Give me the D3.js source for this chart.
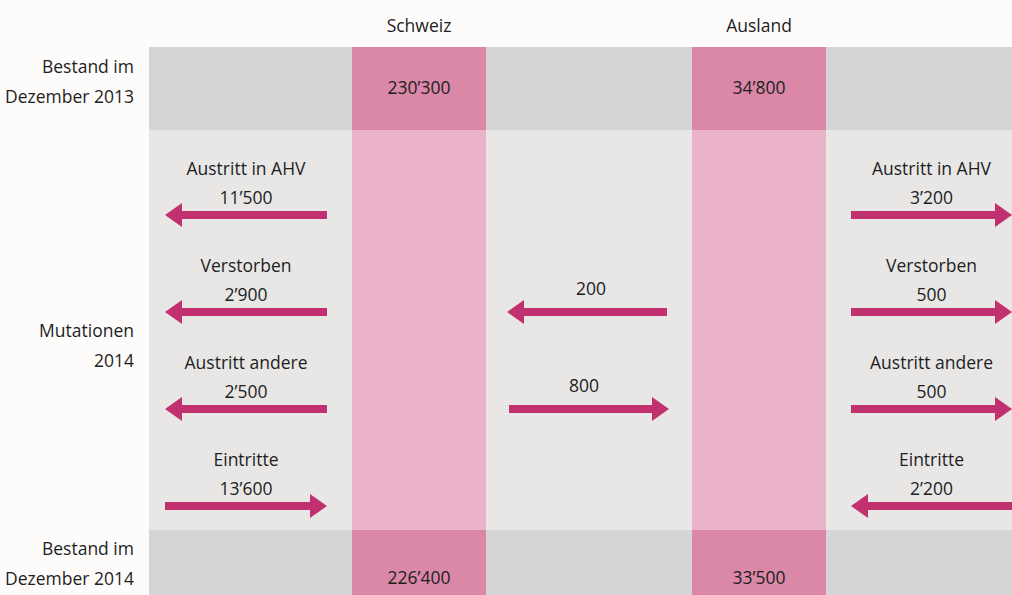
<!DOCTYPE html>
<html>
<head>
<meta charset="utf-8">
<script src="https://cdn.jsdelivr.net/npm/d3@7"></script>
<style>
  body { margin: 0; background: #fdfcfb; }
  svg { display: block; font-family: "Open Sans", "DejaVu Sans", sans-serif; }
  text { fill: #1e1e1e; font-size: 17.5px; }
</style>
</head>
<body>
<svg id="chart" width="1012" height="595"></svg>
<script>
// data
var columns = ["Schweiz", "Ausland"];
var stock2013 = [230300, 34800];
var stock2014 = [226400, 33500];
var flowNames = ["Austritt in AHV", "Verstorben", "Austritt andere", "Eintritte"];
var schweizFlows = [11500, 2900, 2500, 13600];
var auslandFlows = [3200, 500, 500, 2200];
// transfers between the two columns: row index, value, direction
var transferRows = [1, 2];
var transferValues = [200, 800];
var transferDirs = ["toSchweiz", "toAusland"];
var rowLabels = [["Bestand im", "Dezember 2013"], ["Mutationen", "2014"], ["Bestand im", "Dezember 2014"]];

var fmt = d3.formatLocale({ decimal: ".", thousands: "\u2019", grouping: [3], currency: ["", ""] }).format(",");

var svg = d3.select("#chart");
var W = 1012, H = 595;
var pink = "#c1306f";

// scales
var colX = d3.scaleOrdinal().domain(columns).range([352, 692]);
var colW = 134;
var rowY = d3.scalePoint().domain(d3.range(flowNames.length)).range([215, 506]);

var top1 = 47, top2 = 130, top3 = 530;

// background bands
svg.append("rect").attr("x", 149).attr("y", top1).attr("width", W - 149).attr("height", top2 - top1).attr("fill", "#d6d5d5");
svg.append("rect").attr("x", 149).attr("y", top2).attr("width", W - 149).attr("height", top3 - top2).attr("fill", "#e8e7e6");
svg.append("rect").attr("x", 149).attr("y", top3).attr("width", W - 149).attr("height", H - top3).attr("fill", "#d6d5d5");

// pink columns
columns.forEach(function(c) {
  svg.append("rect").attr("x", colX(c)).attr("y", top1).attr("width", colW).attr("height", top2 - top1).attr("fill", "#db88a8");
  svg.append("rect").attr("x", colX(c)).attr("y", top2).attr("width", colW).attr("height", top3 - top2).attr("fill", "#ebb3c9");
  svg.append("rect").attr("x", colX(c)).attr("y", top3).attr("width", colW).attr("height", H - top3).attr("fill", "#db88a8");
});

// column headers
svg.selectAll(".head").data(columns).enter().append("text")
  .attr("x", function(d) { return colX(d) + colW / 2; })
  .attr("y", 32).attr("text-anchor", "middle").text(function(d) { return d; });

// stock values
svg.selectAll(".s13").data(stock2013).enter().append("text")
  .attr("x", function(d, i) { return colX(columns[i]) + colW / 2; })
  .attr("y", 94).attr("text-anchor", "middle").text(function(d) { return fmt(d); });
svg.selectAll(".s14").data(stock2014).enter().append("text")
  .attr("x", function(d, i) { return colX(columns[i]) + colW / 2; })
  .attr("y", 584).attr("text-anchor", "middle").text(function(d) { return fmt(d); });

// row labels
var labelY = [73, 337, 555];
rowLabels.forEach(function(lines, i) {
  var t = svg.append("text").attr("x", 134).attr("y", labelY[i]).attr("text-anchor", "end");
  lines.forEach(function(l, j) {
    t.append("tspan").attr("x", 134).attr("dy", j ? 30 : 0).text(l);
  });
});

// arrow shape, tip at x1
function arrow(x0, x1, y) {
  var dir = x1 > x0 ? 1 : -1;
  var hl = 17, hw = 12, sw = 4;
  var xb = x1 - dir * hl;
  return "M" + x0 + "," + (y - sw) + "L" + xb + "," + (y - sw) + "L" + xb + "," + (y - hw) +
    "L" + x1 + "," + y + "L" + xb + "," + (y + hw) + "L" + xb + "," + (y + sw) + "L" + x0 + "," + (y + sw) + "Z";
}

function flowGroup(values, xa, xb, isInFlow) {
  values.forEach(function(v, i) {
    var y = rowY(i);
    var inward = flowNames[i] === "Eintritte";
    var p = inward === isInFlow ? arrow(xa, xb, y) : arrow(xb, xa, y);
    svg.append("path").attr("d", p).attr("fill", pink);
    var cx = (xa + xb) / 2;
    svg.append("text").attr("x", cx).attr("y", y - 40).attr("text-anchor", "middle").text(flowNames[i]);
    svg.append("text").attr("x", cx).attr("y", y - 11).attr("text-anchor", "middle").text(fmt(v));
  });
}

// Schweiz side: outflows point left, Eintritte point right (into column)
flowGroup(schweizFlows, 165, 327, true);
// Ausland side: outflows point right, Eintritte point left
flowGroup(auslandFlows, 1012, 851, true);

// transfers between columns
transferValues.forEach(function(v, i) {
  var y = rowY(transferRows[i]);
  var p = transferDirs[i] === "toSchweiz" ? arrow(667, 507, y) : arrow(509, 669, y);
  svg.append("path").attr("d", p).attr("fill", pink);
  svg.append("text").attr("x", transferDirs[i] === "toSchweiz" ? 591 : 584).attr("y", y - 17)
    .attr("text-anchor", "middle").text(fmt(v));
});
</script>
</body>
</html>
